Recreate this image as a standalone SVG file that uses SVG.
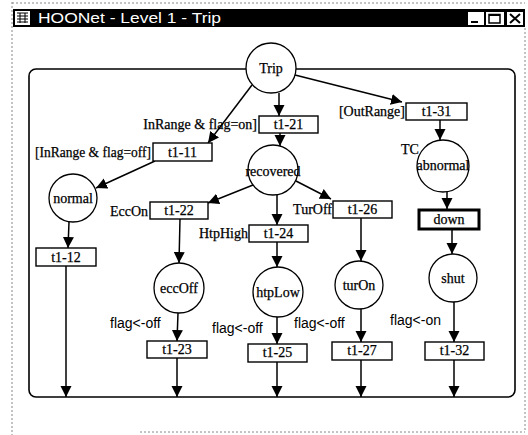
<svg xmlns="http://www.w3.org/2000/svg" width="528" height="435" viewBox="0 0 528 435">
<style>
.ln{stroke:#000;stroke-width:1.5;fill:none}
.pl{fill:#fff;stroke:#000;stroke-width:1.3}
.tr{fill:#fff;stroke:#000;stroke-width:1.4}
.t{font-family:"Liberation Serif","Times New Roman",serif;font-size:14px;fill:#000;text-anchor:middle;stroke:#000;stroke-width:0.25}
.lb{font-family:"Liberation Serif","Times New Roman",serif;font-size:14px;fill:#000;stroke:#000;stroke-width:0.25}
.sl{font-family:"Liberation Sans",Arial,sans-serif;font-size:14px;fill:#000}
.brd{stroke:#888;stroke-width:1;stroke-dasharray:2 2;fill:none}
</style>
<defs>
<marker id="ah" markerUnits="userSpaceOnUse" markerWidth="12" markerHeight="12" refX="11" refY="5.5" orient="auto">
<path d="M0,0 L11,5.5 L0,11 z" fill="#000"/>
</marker>
</defs>
<rect width="528" height="435" fill="#fff"/>
<g id="window">
<line class="brd" x1="12" y1="2" x2="12" y2="435"/>
<line class="brd" x1="525" y1="28" x2="525" y2="432"/>
<line class="brd" x1="140" y1="432" x2="525" y2="432"/>
<line class="brd" x1="12" y1="3" x2="525" y2="3"/>
<rect x="13" y="9" width="512" height="18" fill="#000"/>
<rect x="15" y="11" width="15" height="14" fill="#fff"/>
<path d="M17,13 h11 M17,16 h11 M17,19 h11 M17,22 h11 M20,13 v10 M25,13 v10" stroke="#000" stroke-width="1"/>
<text x="38" y="23" font-family="Liberation Sans,Arial,sans-serif" font-size="15" fill="#fff" textLength="183" lengthAdjust="spacingAndGlyphs">HOONet - Level 1 - Trip</text>
<rect x="468" y="12" width="16" height="13" fill="#fff"/>
<line x1="471" y1="22" x2="478" y2="22" stroke="#000" stroke-width="2"/>
<rect x="486" y="12" width="18" height="13" fill="#fff"/>
<rect x="489" y="14.5" width="11" height="8.5" fill="none" stroke="#000" stroke-width="1.5"/>
<line x1="489" y1="15" x2="500" y2="15" stroke="#000" stroke-width="2"/>
<rect x="507" y="12" width="16" height="13" fill="#fff"/>
<path d="M510,14 L520,23 M520,14 L510,23" stroke="#000" stroke-width="2"/>
</g>
<rect id="frame" x="29" y="69" width="486" height="328" rx="7" fill="none" stroke="#000" stroke-width="1.6"/>
<g id="connectors">
<line class="ln" x1="279" y1="93" x2="279" y2="116" marker-end="url(#ah)"/>
<line class="ln" x1="252" y1="85" x2="208" y2="143" marker-end="url(#ah)"/>
<line class="ln" x1="295" y1="75" x2="402" y2="102" marker-end="url(#ah)"/>
<line class="ln" x1="280" y1="133" x2="280" y2="146" marker-end="url(#ah)"/>
<line class="ln" x1="155" y1="161" x2="96" y2="188" marker-end="url(#ah)"/>
<line class="ln" x1="69" y1="222" x2="68" y2="248" marker-end="url(#ah)"/>
<line class="ln" x1="66" y1="266" x2="66" y2="397" marker-end="url(#ah)"/>
<line class="ln" x1="253" y1="185" x2="208" y2="203" marker-end="url(#ah)"/>
<line class="ln" x1="277" y1="195" x2="277" y2="225" marker-end="url(#ah)"/>
<line class="ln" x1="296" y1="181" x2="331" y2="199" marker-end="url(#ah)"/>
<line class="ln" x1="180" y1="219" x2="179" y2="263" marker-end="url(#ah)"/>
<line class="ln" x1="277" y1="242" x2="277" y2="267" marker-end="url(#ah)"/>
<line class="ln" x1="361" y1="218" x2="361" y2="261" marker-end="url(#ah)"/>
<line class="ln" x1="178" y1="313" x2="177" y2="341" marker-end="url(#ah)"/>
<line class="ln" x1="277" y1="317" x2="277" y2="344" marker-end="url(#ah)"/>
<line class="ln" x1="361" y1="309" x2="361" y2="342" marker-end="url(#ah)"/>
<line class="ln" x1="177" y1="358" x2="177" y2="397" marker-end="url(#ah)"/>
<line class="ln" x1="277" y1="362" x2="277" y2="397" marker-end="url(#ah)"/>
<line class="ln" x1="361" y1="360" x2="361" y2="397" marker-end="url(#ah)"/>
<line class="ln" x1="440" y1="120" x2="440" y2="140" marker-end="url(#ah)"/>
<line class="ln" x1="447" y1="192" x2="447" y2="209" marker-end="url(#ah)"/>
<line class="ln" x1="452" y1="230" x2="452" y2="254" marker-end="url(#ah)"/>
<line class="ln" x1="454" y1="302" x2="454" y2="342" marker-end="url(#ah)"/>
<line class="ln" x1="454" y1="360" x2="454" y2="397" marker-end="url(#ah)"/>
</g>
<g id="Trip"><circle class="pl" cx="271" cy="68" r="25"/><text class="t" x="271" y="73">Trip</text></g>
<g id="t1-21"><text class="lb" x="257" y="129" text-anchor="end">InRange &amp; flag=on]</text><rect class="tr" x="259" y="116" width="59" height="17"/><text class="t" x="288.5" y="129">t1-21</text></g>
<g id="t1-31"><text class="lb" x="405" y="116" text-anchor="end">[OutRange]</text><rect class="tr" x="406" y="103" width="61" height="17"/><text class="t" x="436.5" y="116">t1-31</text></g>
<g id="t1-11"><text class="lb" x="35" y="157" textLength="116" lengthAdjust="spacingAndGlyphs">[InRange &amp; flag=off]</text><rect class="tr" x="153" y="143" width="59" height="18"/><text class="t" x="182.5" y="157">t1-11</text></g>
<g id="normal"><circle class="pl" cx="73" cy="198" r="24"/><text class="t" x="73" y="203">normal</text></g>
<g id="t1-12"><rect class="tr" x="36" y="248" width="60" height="18"/><text class="t" x="66" y="262">t1-12</text></g>
<g id="recovered"><circle class="pl" cx="273" cy="170" r="25"/><text class="t" x="273" y="176">recovered</text></g>
<g id="t1-22"><text class="lb" x="148" y="216" text-anchor="end">EccOn</text><rect class="tr" x="150" y="202" width="58" height="17"/><text class="t" x="179" y="215">t1-22</text></g>
<g id="t1-24"><text class="lb" x="248" y="238" text-anchor="end">HtpHigh</text><rect class="tr" x="249" y="225" width="59" height="17"/><text class="t" x="278.5" y="238">t1-24</text></g>
<g id="t1-26"><text class="lb" x="332" y="214" text-anchor="end">TurOff</text><rect class="tr" x="333" y="201" width="59" height="17"/><text class="t" x="362.5" y="214">t1-26</text></g>
<g id="eccOff"><circle class="pl" cx="179" cy="288" r="25"/><text class="t" x="179" y="293">eccOff</text></g>
<g id="htpLow"><circle class="pl" cx="278" cy="292" r="25"/><text class="t" x="278" y="297">htpLow</text></g>
<g id="turOn"><circle class="pl" cx="359" cy="285" r="24"/><text class="t" x="359" y="290">turOn</text></g>
<g id="abnormal"><text class="lb" x="401" y="154">TC</text><circle class="pl" cx="443" cy="166" r="26"/><text class="t" x="443" y="170">abnormal</text></g>
<g id="down"><rect x="419" y="210" width="60" height="19" fill="#fff" stroke="#000" stroke-width="3"/><text class="t" x="449" y="224">down</text></g>
<g id="shut"><circle class="pl" cx="453" cy="278" r="24"/><text class="t" x="453" y="283">shut</text></g>
<g id="t1-23"><text class="sl" x="110" y="328">flag&lt;-off</text><rect class="tr" x="147" y="341" width="60" height="17"/><text class="t" x="177" y="354">t1-23</text></g>
<g id="t1-25"><text class="sl" x="212" y="333">flag&lt;-off</text><rect class="tr" x="248" y="344" width="59" height="18"/><text class="t" x="277.5" y="357">t1-25</text></g>
<g id="t1-27"><text class="sl" x="294" y="328">flag&lt;-off</text><rect class="tr" x="332" y="342" width="60" height="18"/><text class="t" x="362" y="355">t1-27</text></g>
<g id="t1-32"><text class="sl" x="390" y="325">flag&lt;-on</text><rect class="tr" x="425" y="342" width="59" height="18"/><text class="t" x="454.5" y="355">t1-32</text></g>
</svg>
